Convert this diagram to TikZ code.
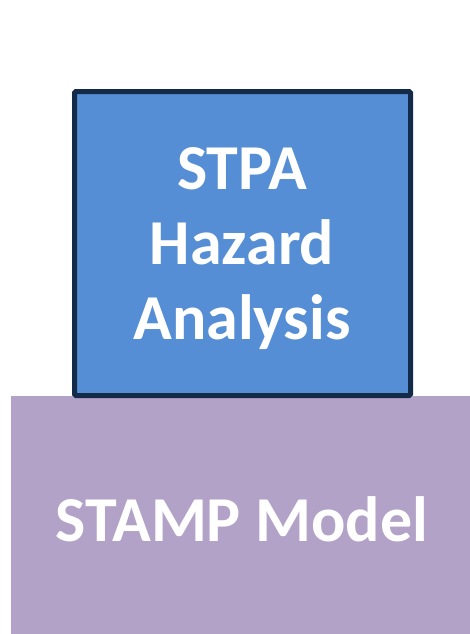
\documentclass[tikz,border=0pt]{standalone}
\usepackage{fontspec}
\setmainfont{Carlito}
\definecolor{basefill}{HTML}{B3A2C7}
\definecolor{boxfill}{HTML}{558ED5}
\definecolor{boxline}{HTML}{132B48}
\begin{document}
\begin{tikzpicture}[x=1pt,y=-1pt,
  layer/.style={fill=basefill,draw=none},
  toplayer/.style={fill=boxfill,draw=boxline,line width=5pt,rounded corners=1.5pt},
  label/.style={text=white,font=\fontsize{64}{75}\selectfont\bfseries,align=center}]
\useasboundingbox (0,0) rectangle (470,634);
\fill[layer] (11,396) rectangle (470,634);
\draw[toplayer] (74.5,91.5) rectangle (410.5,395.5);
\node[label] (stpa) at (242,249) {STPA\\Hazard\\Analysis};
\node[label] (stamp) at (242,519) {STAMP Model};
\end{tikzpicture}
\end{document}
